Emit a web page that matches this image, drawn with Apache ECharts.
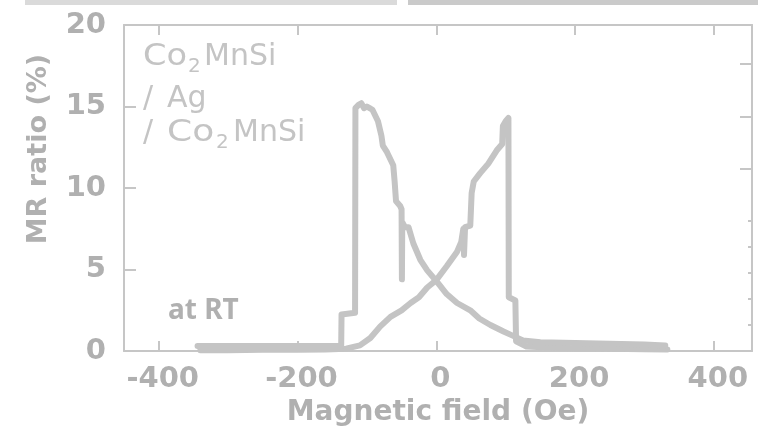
<!DOCTYPE html>
<html>
<head>
<meta charset="utf-8">
<script src="https://cdn.jsdelivr.net/npm/echarts@6/dist/echarts.min.js"></script>
<style>
  html, body { margin: 0; padding: 0; background: #ffffff; }
  #chart { width: 758px; height: 432px; }
</style>
</head>
<body>
<div id="chart"></div>
<script>
// Axis ticks
const fieldTicks = [-400, -200, 0, 200, 400];
const mrTicks = [0, 5, 10, 15, 20];

// Field sweep from negative to positive (Oe, MR %)
const upField = [-340, -300, -250, -200, -160, -130, -110, -95, -81, -66, -50, -37, -25, -13, 0,
  15, 30, 36, 39, 40, 41.5, 49, 51, 54, 63, 75, 87, 95, 96, 100, 104, 104.5, 114, 115,
  130, 160, 200, 250, 300, 333];
const upMR = [0.05, 0.05, 0.08, 0.08, 0.1, 0.15, 0.35, 0.8, 1.5, 2.1, 2.5, 2.95, 3.3, 3.9, 4.35,
  5.2, 6.1, 6.7, 7.5, 5.9, 7.6, 7.7, 9.7, 10.4, 10.9, 11.5, 12.3, 12.7, 13.8, 14.1, 14.3, 3.3, 3.1, 0.6,
  0.28, 0.22, 0.18, 0.15, 0.12, 0.1];

// Field sweep from positive to negative (Oe, MR %)
const downField = [-344, -300, -250, -200, -160, -137, -136.5, -117, -116.5, -112, -108, -104, -100,
  -96, -92, -84, -79, -77, -71, -62, -60, -58, -52, -50, -49.5, -49, -45, -40, -33, -23, -13, 0,
  15, 30, 49, 62, 78, 97, 110, 125, 150, 200, 250, 300, 330];
const downMR = [0.32, 0.32, 0.32, 0.32, 0.32, 0.32, 2.25, 2.35, 14.9, 15.1, 15.2, 14.9, 15.0,
  14.9, 14.8, 14.1, 13.2, 12.6, 12.2, 11.4, 10.4, 9.2, 8.9, 8.7, 4.4, 7.9, 7.6, 7.6, 6.6, 5.6, 4.95, 4.3,
  3.5, 2.95, 2.5, 2.0, 1.6, 1.2, 0.95, 0.65, 0.55, 0.5, 0.45, 0.4, 0.35];

const pairs = (xs, ys) => xs.map((x, i) => [x, ys[i]]);

const axisGray = '#c6c6c6';
const labelGray = '#b0b0b0';
const noteGray = '#c4c4c4';
const curveGray = '#c4c4c4';
const numFont = 'DejaVu Sans';

const chart = echarts.init(document.getElementById('chart'), null, { renderer: 'canvas' });

const curveStyle = { color: curveGray, width: 6, cap: 'round', join: 'round' };
const frameLine = { show: true, onZero: false, lineStyle: { color: axisGray, width: 2 } };

// Composition label pieces (with subscripts)
const note = (text, x, y, size, sx) => ({
  type: 'text', x: x, y: y, scaleX: sx || 1, silent: true,
  style: { text: text, fill: noteGray, font: size + 'px "DejaVu Sans"', align: 'left', verticalAlign: 'middle' }
});

chart.setOption({
  animation: false,
  backgroundColor: '#ffffff',
  grid: { left: 124, right: 6, top: 25, bottom: 78, show: false },
  xAxis: [{
    type: 'value', min: -450, max: 455, position: 'bottom',
    name: 'Magnetic field (Oe)', nameLocation: 'middle', nameGap: 44,
    nameTextStyle: { color: labelGray, fontFamily: numFont, fontWeight: 'bold', fontSize: 28 },
    axisLine: frameLine,
    axisTick: { show: true, inside: true, length: 10, customValues: fieldTicks, lineStyle: { color: axisGray, width: 2 } },
    axisLabel: { customValues: fieldTicks, color: labelGray, fontFamily: numFont, fontWeight: 'bold', fontSize: 29, margin: 14, padding: [0, 0, 0, 8] },
    splitLine: { show: false }
  }, {
    type: 'value', min: -450, max: 455, position: 'top',
    axisLine: frameLine,
    axisTick: { show: true, inside: true, length: 10, customValues: fieldTicks, lineStyle: { color: axisGray, width: 2 } },
    axisLabel: { show: false },
    splitLine: { show: false }
  }],
  yAxis: [{
    type: 'value', min: 0, max: 20, position: 'left',
    name: 'MR ratio (%)', nameLocation: 'middle', nameGap: 72,
    nameTextStyle: { color: labelGray, fontFamily: numFont, fontWeight: 'bold', fontSize: 27, padding: [0, 0, 0, 78] },
    axisLine: frameLine,
    axisTick: { show: true, inside: true, length: 12, customValues: [5, 10, 15], lineStyle: { color: axisGray, width: 2 } },
    axisLabel: { customValues: mrTicks, color: labelGray, fontFamily: numFont, fontWeight: 'bold', fontSize: 29, margin: 18 },
    splitLine: { show: false }
  }, {
    type: 'value', min: 0, max: 12.5, position: 'right', offset: 0,
    axisLine: frameLine,
    axisTick: { show: true, inside: true, length: 12, customValues: [7, 9, 11], lineStyle: { color: axisGray, width: 2 } },
    axisLabel: { show: false },
    splitLine: { show: false }
  }, {
    type: 'value', min: 0, max: 12.5, position: 'right', offset: 0,
    axisLine: { show: false, onZero: false },
    axisTick: { show: true, inside: true, length: 4, customValues: [1, 2, 3, 4, 5], lineStyle: { color: axisGray, width: 2 } },
    axisLabel: { show: false },
    splitLine: { show: false }
  }],
  series: [{
    name: 'up', type: 'line', xAxisIndex: 0, yAxisIndex: 0,
    data: pairs(upField, upMR), showSymbol: false, symbol: 'none', clip: false,
    lineStyle: curveStyle
  }, {
    name: 'down', type: 'line', xAxisIndex: 0, yAxisIndex: 0,
    data: pairs(downField, downMR), showSymbol: false, symbol: 'none', clip: false,
    lineStyle: curveStyle
  }],
  graphic: [
    // faint strips along the top edge
    { type: 'rect', shape: { x: 25, y: 0, width: 372, height: 5 }, style: { fill: '#dadada' }, silent: true },
    { type: 'rect', shape: { x: 408, y: 0, width: 350, height: 5 }, style: { fill: '#cacaca' }, silent: true },
    // Co2MnSi / Ag / Co2MnSi
    note('Co', 143, 57, 30, 1.12), note('2', 188, 67, 20), note('MnSi', 204, 57, 30),
    note('/', 143, 99, 30), note('Ag', 167, 99, 30),
    note('/', 143, 133, 30), note('Co', 167, 133, 30, 1.2), note('2', 216, 143, 20), note('MnSi', 233, 133, 30),
    {
      type: 'text', x: 168, y: 311, silent: true,
      style: { text: 'at RT', fill: labelGray, font: 'bold 28px "Noto Sans"', align: 'left', verticalAlign: 'middle' }
    }
  ]
});
</script>
</body>
</html>
